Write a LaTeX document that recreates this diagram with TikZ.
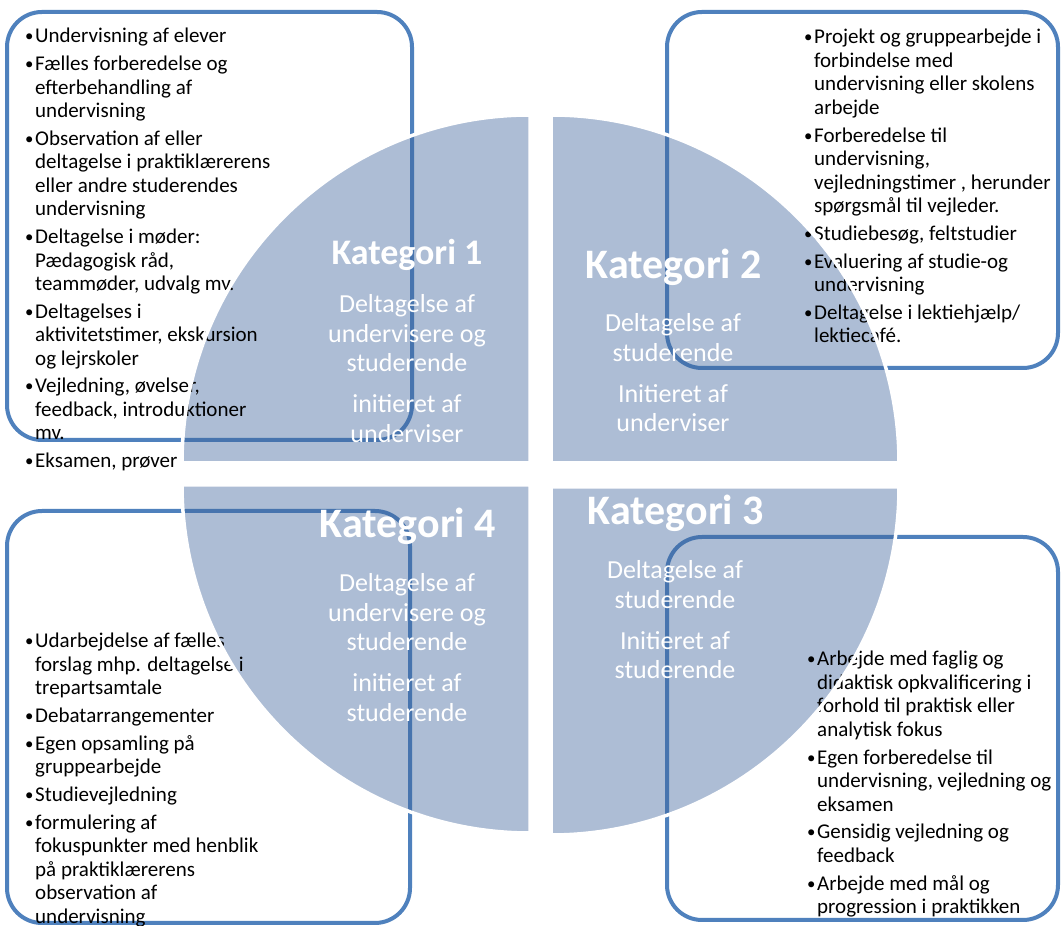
\documentclass[tikz,border=0pt]{standalone}
\usepackage{fontspec}
\usepackage{graphicx}
\setmainfont{Carlito}
\definecolor{boxblue}{RGB}{79,129,189}
\definecolor{wedgebase}{RGB}{60,100,155}
\tikzset{
  catbox/.style={draw=boxblue, line width=4pt, rounded corners=35pt},
  wedgefill/.style={fill=wedgebase, fill opacity=0.42, draw=none},
  wedgeline/.style={draw=white, line width=3.5pt},
  listtext/.style={anchor=base west, inner sep=0pt, text=black},
  cattext/.style={anchor=base, inner sep=0pt, text=white},
}
\newlength\bulw \setlength\bulw{11pt}
\newcommand{\bitem}[1]{\hangindent=\bulw\hangafter=1\noindent\makebox[\bulw][l]{\hspace{1pt}\raisebox{1pt}{\scalebox{0.8}{\textbullet}}}#1\par}
\newcommand{\blist}[1]{\parbox[t]{360pt}{\fontsize{21}{23.5}\selectfont\setlength\parindent{0pt}\setlength\parskip{4.2pt}#1}}
\newcommand{\ktitle}[2]{\parbox[t]{260pt}{\centering\fontsize{#1}{#1}\selectfont\bfseries #2\par}}
\newcommand{\ksub}[1]{\parbox[t]{260pt}{\centering\fontsize{26}{29.5}\selectfont\setlength\parskip{11.5pt}#1\par}}
\begin{document}
\begin{tikzpicture}[x=1pt,y=1pt]
\useasboundingbox (0,0) rectangle (1061,926);
\fill[white] (0,0) rectangle (1061,926);

% boxes
\draw[catbox] (7,486) rectangle (412,914);
\draw[catbox] (667,558) rectangle (1058,914);
\draw[catbox] (7,3) rectangle (410,415);
\draw[catbox] (667,6) rectangle (1058,389);

% wedges
\path[wedgefill] (530,463) -- (182,463) arc[start angle=180, end angle=90, radius=348] -- cycle;
\path[wedgefill] (551,463) -- (551,811) arc[start angle=90, end angle=0, radius=348] -- cycle;
\path[wedgefill] (530,441) -- (182,441) arc[start angle=180, end angle=270, radius=348] -- cycle;
\path[wedgefill] (551,439) -- (551,91) arc[start angle=270, end angle=360, radius=348] -- cycle;

% wedge texts
\node[cattext] (k1) at (407,661) {\ktitle{36}{Kategori 1}};
\node[cattext] (k1s) at (407,613) {\ksub{Deltagelse af\\ undervisere og\\ studerende\par initieret af\\ underviser}};
\node[cattext] (k2) at (674,647) {\ktitle{42}{Kategori 2}};
\node[cattext] (k2s) at (673,594) {\ksub{Deltagelse af\\ studerende\par Initieret af\\ underviser}};
\node[cattext] (k4) at (408,388) {\ktitle{42}{Kategori 4}};
\node[cattext] (k4s) at (407,334) {\ksub{Deltagelse af\\ undervisere og\\ studerende\par initieret af\\ studerende}};
\node[cattext] (k3) at (676,401) {\ktitle{42}{Kategori 3}};
\node[cattext] (k3s) at (675,347) {\ksub{Deltagelse af\\ studerende\par Initieret af\\ studerende}};

% box texts
\node[listtext] (l1) at (24,883) {\blist{%
\bitem{Undervisning af elever}
\bitem{Fælles forberedelse og\\ efterbehandling af\\ undervisning}
\bitem{Observation af eller\\ deltagelse i praktiklærerens\\ eller andre studerendes\\ undervisning}
\bitem{Deltagelse i møder:\\ Pædagogisk råd,\\ teammøder, udvalg mv.}
\bitem{Deltagelses i\\ aktivitetstimer, ekskursion\\ og lejrskoler}
\bitem{Vejledning, øvelser,\\ feedback, introduktioner\\ mv.}
\bitem{Eksamen, prøver}}};

\node[listtext] (l2) at (803,882) {\blist{%
\bitem{Projekt og gruppearbejde i\\ forbindelse med\\ undervisning eller skolens\\ arbejde}
\bitem{Forberedelse til\\ undervisning,\\ vejledningstimer , herunder\\ spørgsmål til vejleder.}
\bitem{Studiebesøg, feltstudier}
\bitem{Evaluering af studie-og\\ undervisning}
\bitem{Deltagelse i lektiehjælp/\\ lektiecafé.}}};

\node[listtext] (l4) at (24,278) {\blist{%
\bitem{Udarbejdelse af fælles\\ forslag mhp. deltagelse i\\ trepartsamtale}
\bitem{Debatarrangementer}
\bitem{Egen opsamling på\\ gruppearbejde}
\bitem{Studievejledning}
\bitem{formulering af\\ fokuspunkter med henblik\\ på praktiklærerens\\ observation af\\ undervisning}}};

\node[listtext] (l3) at (806,260) {\blist{%
\bitem{Arbejde med faglig og\\ didaktisk opkvalificering i\\ forhold til praktisk eller\\ analytisk fokus}
\bitem{Egen forberedelse til\\ undervisning, vejledning og\\ eksamen}
\bitem{Gensidig vejledning og\\ feedback}
\bitem{Arbejde med mål og\\ progression i praktikken}}};

% wedge white outlines
\draw[wedgeline] (530,463) -- (182,463) arc[start angle=180, end angle=90, radius=348] -- cycle;
\draw[wedgeline] (551,463) -- (551,811) arc[start angle=90, end angle=0, radius=348] -- cycle;
\draw[wedgeline] (530,441) -- (182,441) arc[start angle=180, end angle=270, radius=348] -- cycle;
\draw[wedgeline] (551,439) -- (551,91) arc[start angle=270, end angle=360, radius=348] -- cycle;
\end{tikzpicture}
\end{document}
